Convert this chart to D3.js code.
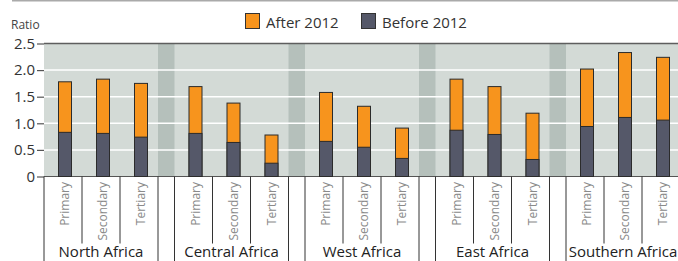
<!DOCTYPE html>
<html>
<head>
<meta charset="utf-8">
<script src="https://cdn.jsdelivr.net/npm/d3@7"></script>
<style>
  html, body { margin: 0; padding: 0; background: #fff; }
  svg { display: block; font-family: "Open Sans", "Noto Sans", sans-serif; }
</style>
</head>
<body>
<svg id="chart" width="678" height="261"></svg>
<script>
const regions = ["North Africa", "Central Africa", "West Africa", "East Africa", "Southern Africa"];
const levels = ["Primary", "Secondary", "Tertiary"];
const seriesNames = ["After 2012", "Before 2012"];
const after2012 = [
  [1.78, 1.83, 1.75],
  [1.69, 1.38, 0.78],
  [1.58, 1.32, 0.91],
  [1.83, 1.69, 1.19],
  [2.02, 2.33, 2.24]
];
const before2012 = [
  [0.83, 0.81, 0.74],
  [0.81, 0.64, 0.25],
  [0.66, 0.55, 0.34],
  [0.87, 0.79, 0.32],
  [0.94, 1.11, 1.06]
];
const yTicks = [0, 0.5, 1.0, 1.5, 2.0, 2.5];
const yTickLabels = ["0", "0.5", "1.0", "1.5", "2.0", "2.5"];

const colors = { "After 2012": "#f7941d", "Before 2012": "#555869" };

const svg = d3.select("#chart");
const W = 678, H = 261;
const mLeft = 44, mRight = 680, mTop = 43.5, mBottom = 176.5;

const x0 = d3.scaleBand().domain(regions).range([mLeft, mRight]).paddingInner(16.5 / 130.5).paddingOuter(0);
const x1 = d3.scaleBand().domain(levels).range([0, x0.bandwidth()]).padding(0);
const y = d3.scaleLinear().domain([0, 2.5]).range([mBottom, mTop]);

// top page rule
svg.append("line").attr("x1", 12).attr("x2", W).attr("y1", 0.75).attr("y2", 0.75)
  .attr("stroke", "#aaaaaa").attr("stroke-width", 1.5);

// plot background
svg.append("rect").attr("x", mLeft).attr("y", mTop).attr("width", W - mLeft).attr("height", mBottom - mTop)
  .attr("fill", "#d3dad6");

// separator bands between groups
regions.slice(0, -1).forEach((r, i) => {
  const xs = x0(r) + x0.bandwidth();
  const xe = x0(regions[i + 1]);
  svg.append("rect").attr("x", xs).attr("y", mTop).attr("width", xe - xs).attr("height", mBottom - mTop)
    .attr("fill", "#b5c0bb");
});

// gridlines
svg.append("g").selectAll("line").data(yTicks.filter(t => t > 0 && t < 2.5)).join("line")
  .attr("x1", mLeft).attr("x2", W).attr("y1", d => y(d)).attr("y2", d => y(d))
  .attr("stroke", "#ffffff").attr("stroke-width", 1.5);

// y axis
const yAxis = d3.axisLeft(y).tickValues(yTicks).tickFormat((d, i) => yTickLabels[i]).tickSize(7).tickPadding(2);
const gy = svg.append("g").attr("transform", `translate(${mLeft},0)`).call(yAxis);
gy.select(".domain").remove();
gy.selectAll(".tick line").attr("stroke", "#555").attr("stroke-width", 1.2);
gy.selectAll(".tick text").attr("fill", "#333").style("font-size", "15px")
  .style("font-family", "'Open Sans', sans-serif");

// top line at 2.5
svg.append("line").attr("x1", mLeft).attr("x2", W).attr("y1", y(2.5)).attr("y2", y(2.5))
  .attr("stroke", "#5e5e5e").attr("stroke-width", 1.6);
// baseline
svg.append("line").attr("x1", mLeft).attr("x2", W).attr("y1", y(0)).attr("y2", y(0))
  .attr("stroke", "#555").attr("stroke-width", 1);

// bars
const barW = 13;
const groups = svg.append("g").selectAll("g").data(regions).join("g")
  .attr("transform", d => `translate(${x0(d)},0)`);

groups.each(function (r, gi) {
  const g = d3.select(this);
  levels.forEach((lv, li) => {
    const cx = x1(lv) + x1.bandwidth() / 2 + 2;
    const a = after2012[gi][li], b = before2012[gi][li];
    g.append("rect").attr("x", cx - barW / 2).attr("y", y(a)).attr("width", barW).attr("height", y(0) - y(a))
      .attr("fill", colors["After 2012"]).attr("stroke", "#2b2b2b").attr("stroke-width", 1);
    g.append("rect").attr("x", cx - barW / 2).attr("y", y(b)).attr("width", barW).attr("height", y(0) - y(b))
      .attr("fill", colors["Before 2012"]).attr("stroke", "#2b2b2b").attr("stroke-width", 1);
  });
});

// bottom category axis: cell dividers
regions.forEach((r, gi) => {
  const gx = x0(r);
  [gx, gx + x0.bandwidth()].forEach(xx => {
    svg.append("line").attr("x1", xx).attr("x2", xx).attr("y1", mBottom).attr("y2", H)
      .attr("stroke", "#333").attr("stroke-width", 1);
  });
  levels.slice(1).forEach(lv => {
    const xx = gx + x1(lv);
    svg.append("line").attr("x1", xx).attr("x2", xx).attr("y1", mBottom).attr("y2", 243.5)
      .attr("stroke", "#333").attr("stroke-width", 1);
  });
  levels.forEach(lv => {
    const cx = gx + x1(lv) + x1.bandwidth() / 2 + 2;
    svg.append("text").attr("transform", `translate(${cx + 4},${182}) rotate(-90)`)
      .attr("text-anchor", "end").attr("fill", "#8a8a8a").style("font-size", "12px").text(lv);
  });
  svg.append("text").attr("x", gx + x0.bandwidth() / 2).attr("y", 257)
    .attr("text-anchor", "middle").attr("fill", "#222").style("font-size", "15px").text(r);
});

// Ratio label
svg.append("text").attr("x", 11).attr("y", 29).attr("fill", "#444").style("font-size", "12px").text("Ratio");

// legend
const legendX = [245, 361];
seriesNames.forEach((s, i) => {
  svg.append("rect").attr("x", legendX[i] + 0.5).attr("y", 13.5).attr("width", 14).attr("height", 15)
    .attr("fill", colors[s]).attr("stroke", "#333").attr("stroke-width", 1);
  svg.append("text").attr("x", legendX[i] + 21).attr("y", 28).attr("fill", "#333")
    .style("font-size", "15px").text(s);
});
</script>
</body>
</html>
